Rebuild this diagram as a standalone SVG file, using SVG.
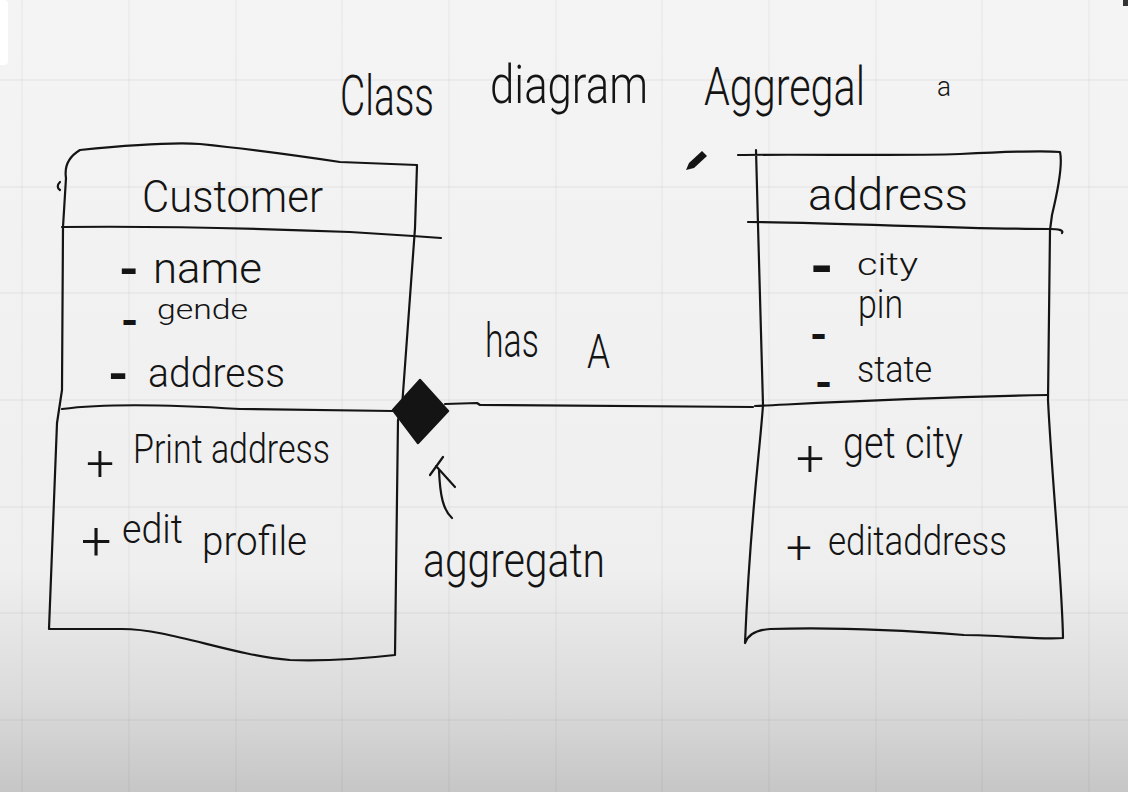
<svg xmlns="http://www.w3.org/2000/svg" width="1128" height="792" viewBox="0 0 1128 792">
<defs>
<linearGradient id="bg" x1="0" y1="0" x2="0" y2="1">
<stop offset="0" stop-color="#f4f4f4"/>
<stop offset="0.72" stop-color="#efefef"/>
<stop offset="0.88" stop-color="#dbdbdb"/>
<stop offset="1" stop-color="#c6c6c6"/>
</linearGradient>
</defs>
<style>
.grid{stroke:#000000;stroke-opacity:0.045;stroke-width:1.3;fill:none}
.ink{stroke:#141414;stroke-width:2.2;fill:none;stroke-linecap:round;stroke-linejoin:round}
.t{font-family:Roboto,"Liberation Sans",sans-serif;font-weight:300;fill:#141414}
.d{font-weight:700}
</style>
<rect x="0" y="0" width="1128" height="792" fill="url(#bg)"/>
<g id="grid" class="grid">
<path d="M22,0V792M129,0V792M236,0V792M342,0V792M449,0V792M556,0V792M662,0V792M769,0V792M876,0V792M982,0V792M1089,0V792"/>
<path d="M0,80H1128M0,187H1128M0,293H1128M0,400H1128M0,507H1128M0,613H1128M0,720H1128"/>
</g>
<rect x="-6" y="0" width="14" height="65" rx="4" fill="#ffffff"/>
<rect x="1123" y="0" width="5" height="6" fill="#333"/>
<g id="title">
<text class="t" x="340" y="115" font-size="56" textLength="94" lengthAdjust="spacingAndGlyphs">Class</text>
<text class="t" x="490" y="103" font-size="54" textLength="158" lengthAdjust="spacingAndGlyphs">diagram</text>
<text class="t" x="704" y="105" font-size="54" textLength="161" lengthAdjust="spacingAndGlyphs">Aggregal</text>
<text class="t" x="937" y="96" font-size="28" textLength="14" lengthAdjust="spacingAndGlyphs">a</text>
</g>
<path id="pencil" d="M686,170 L689,163 L702,151 L707,156 L694,168 Z" fill="#141414"/>
<g id="customer">
<path class="ink" d="M66,178 C64,165 70,156 80,150 C120,146 170,142 200,144 C240,148 300,156 340,162 L417,165 L415,228 L402,407 L398,420 L395,655 C360,659 320,661 290,660 C230,655 170,629 122,629 L49,629 L57,423 L62,390 L63,227 L66,178"/>
<path class="ink" d="M60,182 C57,185 57,188 60,190"/>
<path class="ink" d="M62,227 C150,226 250,228 350,232 L413,236 L441,238"/>
<path class="ink" d="M62,409 C100,404 160,404 240,409 L393,411"/>
<text class="t" x="142" y="212" font-size="44" textLength="181" lengthAdjust="spacingAndGlyphs">Customer</text>
<text class="t" font-size="50"><tspan class="d" x="119" y="287">- </tspan><tspan x="153" y="283" font-size="42" textLength="109" lengthAdjust="spacingAndGlyphs">name</tspan></text>
<text class="t" font-size="44"><tspan class="d" x="121" y="336">- </tspan><tspan x="157" y="319" font-size="28" textLength="91" lengthAdjust="spacingAndGlyphs">gende</tspan></text>
<text class="t" font-size="52"><tspan class="d" x="108" y="392">- </tspan><tspan x="148" y="387" font-size="40" textLength="137" lengthAdjust="spacingAndGlyphs">address</tspan></text>
<text class="t" font-size="40"><tspan x="86" y="480" font-size="50">+ </tspan><tspan x="133" y="463" textLength="197" lengthAdjust="spacingAndGlyphs">Print address</tspan></text>
<text class="t" font-size="40"><tspan x="81" y="560" font-size="54">+ </tspan><tspan x="122" y="543" textLength="70" lengthAdjust="spacingAndGlyphs">edit </tspan><tspan x="202" y="555" textLength="105" lengthAdjust="spacingAndGlyphs">profile</tspan></text>
</g>
<g id="address">
<path class="ink" d="M738,155 C800,154 900,156 960,154 C1000,152 1040,150 1060,152 C1063,165 1058,190 1052,215 L1050,230 L1048,400 C1052,480 1062,580 1063,638 C1040,640 1000,635 964,635 C900,630 830,627 770,629 C755,630 748,635 745,643 C750,520 760,450 763,405 L758,225 L756,150"/>
<path class="ink" d="M748,222 C850,223 960,229 1050,229 C1058,229 1064,230 1062,233"/>
<path class="ink" d="M755,406 C800,404 900,398 1048,395"/>
<text class="t" x="808" y="210" font-size="44" textLength="160" lengthAdjust="spacingAndGlyphs">address</text>
<text class="t" font-size="60"><tspan class="d" x="810" y="287">- </tspan><tspan x="857" y="275" font-size="32" textLength="61" lengthAdjust="spacingAndGlyphs">city</tspan></text>
<text class="t" font-size="44"><tspan class="d" x="810" y="350">- </tspan><tspan x="858" y="318" font-size="40" textLength="45" lengthAdjust="spacingAndGlyphs">pin</tspan></text>
<text class="t" font-size="44"><tspan class="d" x="815" y="398">- </tspan><tspan x="857" y="382" font-size="36" textLength="75" lengthAdjust="spacingAndGlyphs">state</tspan></text>
<text class="t" font-size="44"><tspan x="796" y="475" font-size="50">+ </tspan><tspan x="843" y="458" textLength="120" lengthAdjust="spacingAndGlyphs">get city</tspan></text>
<text class="t" font-size="40"><tspan x="786" y="563" font-size="46">+ </tspan><tspan x="828" y="555" textLength="179" lengthAdjust="spacingAndGlyphs">editaddress</tspan></text>
</g>
<g id="connectors">
<path class="ink" d="M445,404 L477,403 L480,405 L753,407"/>
<polygon points="420,380 448,411 418,443 393,410" fill="#141414" stroke="#141414" stroke-width="2.5" stroke-linejoin="round"/>
<path class="ink" d="M452,518 C443,510 440,495 439,470"/>
<path class="ink" d="M430,475 L443,457 M436,466 L455,487"/>
</g>
<g id="labels">
<text class="t" font-size="48"><tspan x="485" y="357" textLength="62" lengthAdjust="spacingAndGlyphs">has </tspan><tspan x="587" y="368" textLength="23" lengthAdjust="spacingAndGlyphs">A</tspan></text>
<text class="t" x="423" y="577" font-size="48" textLength="182" lengthAdjust="spacingAndGlyphs">aggregatn</text>
</g>
</svg>
